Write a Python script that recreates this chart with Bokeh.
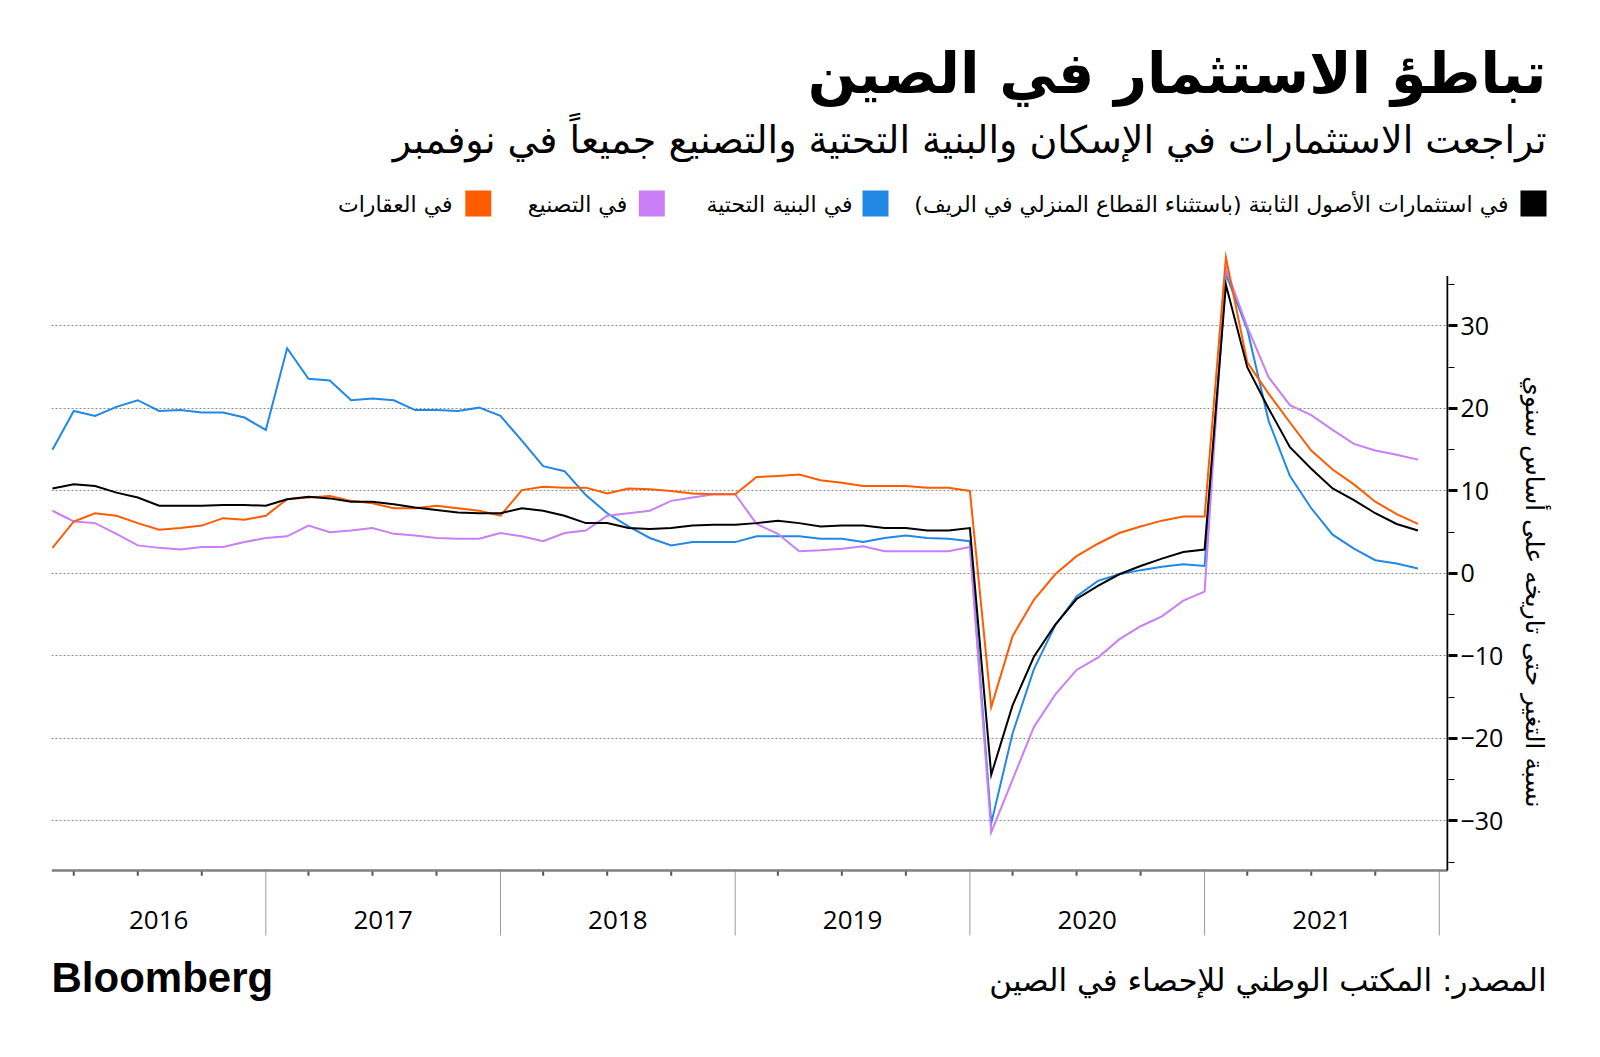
from bokeh.plotting import figure
from bokeh.models import Range1d, FixedTicker
from bokeh.layouts import column, row
from bokeh.embed import file_html
from bokeh.resources import INLINE
from bokeh.core.properties import value

# ---------------- data ----------------
years = [2016, 2017, 2018, 2019, 2020, 2021]
# China reports Jan-Feb together, so each year has Feb..Dec points
months = [(y, m) for y in years for m in range(2, 13) if not (y == 2021 and m == 12)]

fai_total = [10.3, 10.8, 10.6, 9.8, 9.2, 8.2, 8.2, 8.2, 8.3, 8.3, 8.2,
             9.0, 9.3, 9.1, 8.7, 8.7, 8.4, 8.0, 7.7, 7.4, 7.3, 7.3,
             7.9, 7.6, 7.0, 6.1, 6.1, 5.5, 5.4, 5.5, 5.8, 5.9, 5.9,
             6.1, 6.4, 6.1, 5.7, 5.8, 5.8, 5.5, 5.5, 5.2, 5.2, 5.5,
             -24.4, -16.0, -10.1, -6.2, -3.1, -1.5, -0.1, 0.9, 1.8, 2.6, 2.9,
             35.0, 25.0, 20.0, 15.3, 12.7, 10.3, 8.9, 7.3, 6.0, 5.2]
infrastructure = [15.0, 19.7, 19.1, 20.2, 21.0, 19.7, 19.8, 19.5, 19.5, 18.9, 17.4,
                  27.3, 23.6, 23.4, 21.0, 21.2, 21.0, 19.8, 19.8, 19.7, 20.1, 19.1,
                  16.1, 13.0, 12.4, 9.5, 7.3, 5.7, 4.3, 3.4, 3.8, 3.8, 3.8,
                  4.5, 4.5, 4.5, 4.2, 4.2, 3.8, 4.3, 4.6, 4.3, 4.2, 3.9,
                  -30.3, -19.4, -11.6, -6.3, -2.8, -0.9, -0.1, 0.4, 0.8, 1.1, 0.9,
                  36.3, 29.6, 18.5, 11.8, 7.9, 4.7, 3.0, 1.6, 1.2, 0.6]
manufacturing = [7.6, 6.3, 6.1, 4.8, 3.4, 3.1, 2.9, 3.2, 3.2, 3.8, 4.3,
                 4.5, 5.8, 5.0, 5.2, 5.5, 4.8, 4.6, 4.3, 4.2, 4.2, 4.9,
                 4.5, 3.9, 4.9, 5.2, 7.0, 7.3, 7.6, 8.8, 9.2, 9.6, 9.6,
                 6.0, 4.8, 2.7, 2.8, 3.0, 3.3, 2.7, 2.7, 2.7, 2.7, 3.2,
                 -31.4, -25.0, -18.6, -14.7, -11.7, -10.2, -8.0, -6.4, -5.2, -3.3, -2.2,
                 37.0, 29.9, 23.8, 20.4, 19.2, 17.4, 15.7, 14.9, 14.4, 13.8]
real_estate = [3.1, 6.3, 7.3, 7.0, 6.1, 5.3, 5.5, 5.8, 6.7, 6.5, 7.0,
               9.0, 9.2, 9.4, 8.8, 8.5, 7.9, 7.9, 8.2, 7.9, 7.6, 7.0,
               10.1, 10.5, 10.4, 10.4, 9.7, 10.3, 10.2, 10.0, 9.7, 9.6, 9.6,
               11.7, 11.8, 12.0, 11.3, 11.0, 10.6, 10.6, 10.6, 10.4, 10.4, 10.0,
               -16.2, -7.6, -3.2, -0.1, 2.1, 3.6, 4.9, 5.7, 6.4, 6.9, 6.9,
               38.3, 25.6, 21.8, 18.3, 14.9, 12.6, 10.8, 8.7, 7.2, 6.0]

y_ticks = [-30, -20, -10, 0, 10, 20, 30]
y_minor = [-35, -25, -15, -5, 5, 15, 25, 35]

title = "تباطؤ الاستثمار في الصين"
subtitle = "تراجعت الاستثمارات في الإسكان والبنية التحتية والتصنيع جميعاً في نوفمبر"
legend_labels = ["في استثمارات الأصول الثابتة (باستثناء القطاع المنزلي في الريف)",
                 "في البنية التحتية", "في التصنيع", "في العقارات"]
y_title = "نسبة التغير حتى تاريخه على أساس سنوي"
source_text = "المصدر: المكتب الوطني للإحصاء في الصين"

colors = ["#000000", "#2188e6", "#c97ff7", "#ff5b00"]

AR_FONT = "DejaVu Sans"
NUM_FONT = "Open Sans"


def slot(y, m):
    # evenly spaced slots: 11 per year (Jan merged into Feb)
    return (y - 2016) * 11 + (m - 1)


xs = [slot(y, m) for y, m in months]

# ---------------- geometry ----------------
W = 1600
X_LEFT, X_AXIS = 0.956, 66.385
Y_BOT, Y_TOP = -36.0, 36.07
Y_SEP = -43.9
Y_QT = -36.65
Y_YEAR = -41.96


def blank(height):
    f = figure(width=W, height=height, x_range=Range1d(0, W), y_range=Range1d(height, 0),
               toolbar_location=None, output_backend="svg", min_border=0,
               x_axis_location=None, y_axis_location=None)
    f.outline_line_color = None
    f.xgrid.visible = False
    f.ygrid.visible = False
    return f


# ---------------- header ----------------
HH = 243
header = blank(HH)
header.text(x=[1546], y=[72], text=[title], text_align="right", text_baseline="alphabetic",
            text_font=value(AR_FONT), text_font_style="bold", text_font_size="57px", text_color="black")
header.text(x=[1546], y=[139], text=[subtitle], text_align="right", text_baseline="alphabetic",
            text_font=value(AR_FONT), text_font_size="38px", text_color="black")
sq_x = [1533, 875, 651.3, 477.8]
txt_x = [1508, 852, 626.7, 452]
header.rect(x=sq_x, y=[203] * 4, width=26, height=26, fill_color=colors, line_color=None)
header.text(x=txt_x, y=[204] * 4, text=legend_labels, text_align="right", text_baseline="middle",
            text_font=value(AR_FONT), text_font_size="22px", text_color="black")

# ---------------- chart ----------------
chart = figure(frame_width=1397, frame_height=697,
               x_range=Range1d(X_LEFT, 66.432), y_range=Range1d(-44.5, 40.0),
               x_axis_location=None, y_axis_location="right",
               toolbar_location=None, output_backend="svg",
               min_border_left=51, min_border_right=W - 1448, min_border_top=0, min_border_bottom=0)
chart.outline_line_color = None
chart.xgrid.visible = False
chart.ygrid.ticker = FixedTicker(ticks=y_ticks)
chart.ygrid.grid_line_color = "#8c8c8c"
chart.ygrid.grid_line_dash = "2 2"
chart.ygrid.grid_line_width = 1

yax = chart.yaxis[0]
yax.ticker = FixedTicker(ticks=y_ticks, minor_ticks=y_minor)
yax.axis_line_color = None
yax.major_tick_in = 0
yax.major_tick_out = 9
yax.major_tick_line_width = 3
yax.major_tick_line_color = "black"
yax.minor_tick_in = 0
yax.minor_tick_out = 6
yax.minor_tick_line_width = 1
yax.minor_tick_line_color = "black"
yax.major_label_text_font = NUM_FONT
yax.major_label_text_font_size = "25px"
yax.major_label_text_color = "black"
yax.major_label_standoff = 3
yax.axis_label = y_title
yax.axis_label_text_font = AR_FONT
yax.axis_label_text_font_style = "normal"
yax.axis_label_text_font_size = "25px"
yax.axis_label_text_color = "black"
yax.axis_label_standoff = 14

# custom x axis (year bands)
bounds = [slot(y, 12) for y in years]
qticks = [slot(y, m) for y in years for m in (3, 6, 9)]
centers = [(max(slot(y, 1), X_LEFT) + slot(y, 12)) / 2 for y in years]

chart.segment(x0=bounds, y0=[Y_BOT] * len(bounds), x1=bounds, y1=[Y_SEP] * len(bounds),
              line_color="#9a9a9a", line_width=1)
chart.segment(x0=qticks, y0=[Y_BOT] * len(qticks), x1=qticks, y1=[Y_QT] * len(qticks),
              line_color="#555555", line_width=2)
chart.segment(x0=[X_LEFT], y0=[Y_BOT], x1=[X_AXIS], y1=[Y_BOT], line_color="#808080", line_width=2.5)
chart.segment(x0=[X_AXIS], y0=[Y_BOT], x1=[X_AXIS], y1=[Y_TOP], line_color="black", line_width=2)
chart.text(x=centers, y=[Y_YEAR] * len(years), text=[str(y) for y in years],
           text_align="center", text_baseline="middle",
           text_font=value(NUM_FONT), text_font_size="26px", text_color="black")

for vals, col in zip([infrastructure, manufacturing, real_estate, fai_total],
                     [colors[1], colors[2], colors[3], colors[0]]):
    chart.line(xs, vals, line_color=col, line_width=2, line_join="miter")

# ---------------- footer ----------------
FH = 115
footer = blank(FH)
footer.text(x=[51], y=[37], text=["Bloomberg"], text_align="left", text_baseline="alphabetic",
            text_font=value("Liberation Sans"), text_font_style="bold", text_font_size="42px",
            text_color="black")
footer.text(x=[1546], y=[39], text=[source_text], text_align="right", text_baseline="alphabetic",
            text_font=value(AR_FONT), text_font_size="31px", text_color="black")

layout = column(row(header), row(chart), row(footer), spacing=0)
open("out.html", "w").write(file_html(layout, INLINE))
